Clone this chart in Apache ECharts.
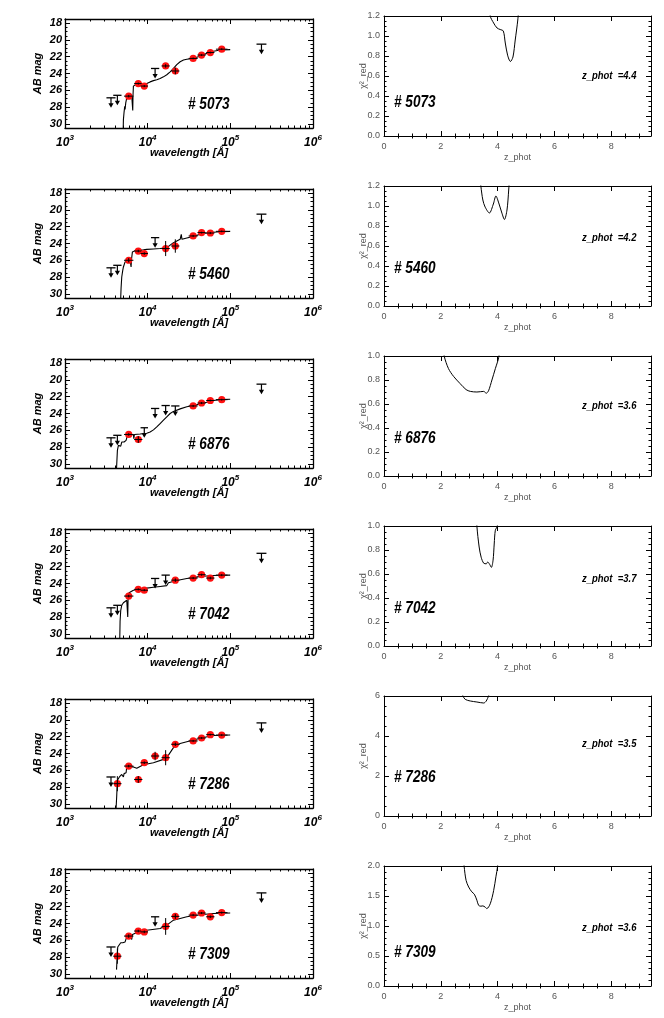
<!DOCTYPE html>
<html>
<head>
<meta charset="utf-8">
<script src="https://cdn.jsdelivr.net/npm/echarts@6/dist/echarts.min.js"></script>
<style>html,body{margin:0;padding:0;background:#fff}#main{width:664px;height:1018px}</style>
</head>
<body>
<div id="main"></div>
<script>
// photometric SED fits (left) and chi^2 vs redshift (right) for six objects
const objIds = ['5073', '5460', '6876', '7042', '7286', '7309'];
const zPhot = ['4.4', '4.2', '3.6', '3.7', '3.5', '3.6'];

// filters: U B V i z J H Ks 3.6 4.5 5.8 8.0 24um (Angstrom)
const filterWave = [3600, 4300, 5900, 7700, 9100, 12300, 16500, 21600, 35500, 44900, 57300, 78700, 238000];
const filterHalfDex = [0.055, 0.05, 0.057, 0.05, 0.045, 0.05, 0.05, 0.05, 0.055, 0.05, 0.05, 0.07, 0.06];

// AB magnitudes; err null = upper limit
const mag5073 = [26.9, 26.6, 26.7, 25.2, 25.5, 23.4, 23.1, 23.7, 22.2, 21.8, 21.5, 21.1, 20.5];
const err5073 = [null, null, 0.15, 0.12, 0.12, null, 0.2, 0.4, 0.1, 0.1, 0.1, 0.1, null];
const mag5460 = [26.9, 26.6, 26.0, 24.9, 25.2, 23.3, 24.6, 24.3, 23.1, 22.7, 22.75, 22.55, 20.5];
const err5460 = [null, null, 0.25, 0.15, 0.15, null, 0.9, 0.8, 0.12, 0.1, 0.12, 0.1, null];
const mag6876 = [26.9, 26.6, 26.5, 27.1, 25.7, 23.4, 23.05, 23.1, 23.1, 22.75, 22.45, 22.35, 20.5];
const err6876 = [null, null, 0.15, 0.4, null, null, null, null, 0.12, 0.12, 0.1, 0.1, null];
const mag7042 = [26.9, 26.6, 25.5, 24.7, 24.8, 23.4, 23.0, 23.6, 23.35, 22.95, 23.35, 23.0, 20.4];
const err7042 = [null, null, 0.15, 0.12, 0.12, null, null, 0.2, 0.12, 0.12, 0.15, 0.12, null];
const mag7286 = [26.8, 27.6, 25.5, 27.1, 25.1, 24.3, 24.5, 22.9, 22.5, 22.15, 21.75, 21.8, 20.35];
const err7286 = [null, 0.9, 0.15, 0.4, 0.15, 0.5, 0.9, 0.2, 0.12, 0.1, 0.1, 0.1, null];
const mag7309 = [26.8, 27.9, 25.5, 24.9, 25.0, 23.2, 24.35, 23.15, 23.0, 22.75, 23.2, 22.7, 20.35];
const err7309 = [null, 0.9, 0.2, 0.15, 0.15, null, 1.0, 0.3, 0.12, 0.12, 0.15, 0.12, null];

// best-fit template [wavelength, AB mag]
const sed5073 = [[5050, 31], [5088, 29.5], [5184, 28.6], [5281, 27.9], [5331, 28.3], [5431, 27.5], [5585, 26.9], [5689, 26.7], [5848, 26.66], [6417, 26.66], [6538, 26.6], [6599, 28.4], [6650, 26.6], [6723, 25.5], [6913, 25.3], [7379, 25.22], [8099, 25.25], [8886, 25.3], [9752, 25.2], [10703, 25.0], [11747, 24.85], [12892, 24.75], [14149, 24.6], [15527, 24.4], [17035, 24.15], [18700, 23.8], [20520, 23.4], [22510, 22.95], [24710, 22.6], [27120, 22.4], [29760, 22.3], [35840, 22.2], [43150, 21.9], [51980, 21.6], [62600, 21.35], [75420, 21.2], [99630, 21.15]];
const sed5460 = [[4700, 31], [4768, 29.3], [4858, 28.0], [4995, 27.2], [5088, 26.8], [5331, 26.2], [5585, 26.0], [6126, 25.95], [6241, 26.1], [6299, 26.8], [6360, 26.0], [6538, 25.0], [7044, 24.85], [7731, 24.8], [8886, 24.75], [9752, 24.7], [11747, 24.65], [14149, 24.6], [17035, 24.5], [18700, 24.2], [20520, 23.9], [22510, 23.7], [24710, 23.5], [25500, 22.9], [26000, 23.5], [29760, 23.35], [35840, 23.15], [43150, 22.9], [51980, 22.75], [62600, 22.65], [75420, 22.6], [99630, 22.55]];
const sed6876 = [[4147, 31], [4200, 30.6], [4304, 28.4], [4426, 27.8], [4550, 27.7], [4724, 27.9], [4858, 27.4], [5184, 27.4], [5482, 27.2], [5689, 26.6], [5848, 26.5], [6723, 26.5], [6800, 27.0], [6913, 26.5], [8099, 26.45], [9752, 26.35], [10703, 26.2], [11747, 25.95], [12892, 25.6], [14149, 25.2], [15527, 24.8], [17035, 24.4], [18700, 24.0], [20520, 23.75], [24710, 23.45], [29760, 23.2], [35840, 23.05], [43150, 22.85], [51980, 22.65], [62600, 22.45], [75420, 22.35], [99630, 22.3]];
const sed7042 = [[4508, 31], [4600, 30.5], [4637, 28.5], [4724, 27.2], [4858, 26.6], [5088, 26.3], [5331, 26.2], [5585, 26.0], [5689, 25.95], [5741, 28.0], [5800, 25.6], [5958, 25.1], [6723, 24.8], [7731, 24.72], [9752, 24.55], [11747, 24.45], [14149, 24.35], [17035, 24.25], [17847, 23.9], [18700, 23.8], [22510, 23.65], [29760, 23.4], [35840, 23.3], [43150, 23.15], [51980, 23.1], [62600, 23.05], [75420, 23.02], [99630, 23.0]];
const sed7286 = [[4147, 30.6], [4225, 29.0], [4304, 27.2], [4550, 26.8], [4858, 26.5], [4949, 26.6], [5088, 26.8], [5184, 26.4], [5481, 26.3], [5585, 25.6], [6723, 25.6], [7379, 25.75], [7731, 25.55], [8886, 25.35], [11747, 25.1], [15527, 24.7], [17847, 24.2], [20520, 23.3], [24710, 22.8], [29760, 22.6], [35840, 22.4], [47360, 22.1], [62600, 21.85], [99630, 21.8]];
const sed7309 = [[4200, 29.5], [4225, 29.0], [4345, 26.8], [4550, 26.6], [4724, 26.3], [4858, 26.5], [5000, 26.3], [5331, 26.2], [5585, 25.6], [5848, 25.4], [6126, 25.5], [6417, 25.9], [6550, 25.3], [6723, 25.2], [8099, 24.9], [9752, 24.8], [14149, 24.6], [17035, 24.2], [20520, 23.6], [24710, 23.4], [29760, 23.2], [43150, 22.95], [62600, 22.8], [99630, 22.75]];

// reduced chi^2 vs z_phot
const chi5073 = [[3.55, 1.6], [3.74, 1.2], [3.86, 1.13], [3.98, 1.08], [4.09, 1.065], [4.2, 1.05], [4.27, 0.93], [4.35, 0.81], [4.45, 0.745], [4.54, 0.79], [4.62, 0.96], [4.71, 1.16], [4.8, 1.45]];
const chi5460 = [[3.3, 1.5], [3.41, 1.2], [3.48, 1.06], [3.56, 0.99], [3.71, 0.93], [3.85, 1.02], [3.94, 1.1], [4.04, 1.03], [4.15, 0.93], [4.24, 0.865], [4.33, 0.96], [4.39, 1.16], [4.47, 1.5]];
const chi6876 = [[2.0, 1.2], [2.12, 1.0], [2.27, 0.895], [2.45, 0.83], [2.68, 0.77], [2.89, 0.72], [3.04, 0.705], [3.27, 0.7], [3.51, 0.705], [3.6, 0.69], [3.68, 0.71], [3.8, 0.8], [3.92, 0.895], [4.04, 0.99], [4.15, 1.2]];
const chi7042 = [[3.2, 1.3], [3.27, 1.0], [3.35, 0.825], [3.42, 0.74], [3.51, 0.69], [3.6, 0.685], [3.65, 0.7], [3.72, 0.68], [3.78, 0.655], [3.84, 0.715], [3.88, 0.85], [3.92, 0.965], [3.99, 1.0], [4.03, 1.3]];
const chi7286 = [[2.7, 6.3], [2.78, 6.0], [2.86, 5.83], [3.04, 5.75], [3.27, 5.7], [3.51, 5.65], [3.6, 5.75], [3.68, 6.0], [3.74, 6.3]];
const chi7309 = [[2.75, 2.4], [2.82, 2.0], [2.89, 1.76], [2.98, 1.65], [3.09, 1.57], [3.18, 1.53], [3.27, 1.43], [3.33, 1.345], [3.41, 1.33], [3.48, 1.335], [3.56, 1.315], [3.62, 1.29], [3.74, 1.37], [3.86, 1.59], [3.94, 1.82], [4.0, 2.0], [4.06, 2.4]];

const chiMax = [1.2, 1.2, 1.0, 1.0, 6, 2.0];
const chiStep = [0.2, 0.2, 0.2, 0.2, 2, 0.5];
const magTicks = [18, 20, 22, 24, 26, 28, 30];
const magMinor = [18, 18.5, 19, 19.5, 20, 20.5, 21, 21.5, 22, 22.5, 23, 23.5, 24, 24.5, 25, 25.5, 26, 26.5, 27, 27.5, 28, 28.5, 29, 29.5, 30];
const waveMinor = [2e3, 3e3, 4e3, 5e3, 6e3, 7e3, 8e3, 9e3, 2e4, 3e4, 4e4, 5e4, 6e4, 7e4, 8e4, 9e4, 2e5, 3e5, 4e5, 5e5, 6e5, 7e5, 8e5, 9e5];
const zMinor = [0.5, 1, 1.5, 2.5, 3, 3.5, 4.5, 5, 5.5, 6.5, 7, 7.5, 8.5, 9];

const mags = [mag5073, mag5460, mag6876, mag7042, mag7286, mag7309];
const errs = [err5073, err5460, err6876, err7042, err7286, err7309];
const seds = [sed5073, sed5460, sed6876, sed7042, sed7286, sed7309];
const chis = [chi5073, chi5460, chi6876, chi7042, chi7286, chi7309];

const SANS = 'Liberation Sans';
const GRAY = '#555';

function renderDet(params, api) {
  const x = api.value(0), y = api.value(1), e = api.value(2), dx = api.value(3);
  const c = api.coord([x, y]);
  const lo = api.coord([x / Math.pow(10, dx), y]);
  const hi = api.coord([x * Math.pow(10, dx), y]);
  const t = api.coord([x, y - e]);
  const b = api.coord([x, y + e]);
  return {
    type: 'group',
    children: [
      { type: 'circle', shape: { cx: c[0], cy: c[1], r: 3.6 }, style: { fill: '#ff1010' } },
      { type: 'line', shape: { x1: lo[0], y1: c[1], x2: hi[0], y2: c[1] }, style: { stroke: '#000', lineWidth: 1 } },
      { type: 'line', shape: { x1: c[0], y1: t[1], x2: c[0], y2: b[1] }, style: { stroke: '#000', lineWidth: 1 } }
    ]
  };
}

function renderLim(params, api) {
  const x = api.value(0), y = api.value(1), dx = api.value(2);
  const c = api.coord([x, y]);
  const lo = api.coord([x / Math.pow(10, dx), y]);
  const hi = api.coord([x * Math.pow(10, dx), y]);
  return {
    type: 'group',
    children: [
      { type: 'line', shape: { x1: lo[0], y1: c[1], x2: hi[0], y2: c[1] }, style: { stroke: '#000', lineWidth: 1.3 } },
      { type: 'line', shape: { x1: c[0], y1: c[1], x2: c[0], y2: c[1] + 7 }, style: { stroke: '#000', lineWidth: 1.2 } },
      { type: 'polygon', shape: { points: [[c[0] - 2.6, c[1] + 5.5], [c[0] + 2.6, c[1] + 5.5], [c[0], c[1] + 10]] }, style: { fill: '#000' } }
    ]
  };
}

const grid = [], xAxis = [], yAxis = [], series = [], graphic = [];
const lineBlack = { color: '#000', width: 1 };
const frameLeft = { color: '#000', width: 1.3 };
const leftLabel = { fontFamily: SANS, fontSize: 11, fontWeight: 'bold', fontStyle: 'italic', color: '#000' };
const grayLabel = { color: GRAY, fontFamily: SANS, fontSize: 9 };

// axis that only carries extra (minor) tick marks
function tickOnlyAxis(base, values) {
  return Object.assign({
    axisLine: { show: false },
    axisTick: { inside: true, length: 2.5, lineStyle: lineBlack, customValues: values },
    axisLabel: { show: false },
    splitLine: { show: false }
  }, base);
}

objIds.forEach(function (id, i) {
  const gl = grid.length;
  grid.push({ left: 65, top: 19 + 170 * i, width: 248, height: 109 });
  const gr = grid.length;
  grid.push({ left: 384, top: 16 + 170 * i, width: 267, height: 120 });

  // ---- left: SED ----
  const xb = xAxis.length;
  ['bottom', 'top'].forEach(function (pos) {
    xAxis.push({
      gridIndex: gl, type: 'log', logBase: 10, min: 1000, max: 1000000, position: pos,
      axisLine: { lineStyle: frameLeft, onZero: false },
      axisTick: { inside: true, length: 5, lineStyle: lineBlack },
      splitLine: { show: false },
      axisLabel: pos === 'bottom' ? {
        margin: 6,
        formatter: function (v) { return '{b|10}{e|' + Math.round(Math.log10(v)) + '}'; },
        rich: {
          b: Object.assign({}, leftLabel, { fontSize: 12 }),
          e: Object.assign({}, leftLabel, { fontSize: 8, padding: [0, 0, 10, 0] })
        }
      } : { show: false },
      name: pos === 'bottom' ? 'wavelength [Å]' : '',
      nameLocation: 'middle', nameGap: 19, nameMoveOverlap: false,
      nameTextStyle: leftLabel
    });
  });
  ['bottom', 'top'].forEach(function (pos) {
    xAxis.push(tickOnlyAxis({ gridIndex: gl, type: 'value', min: 3, max: 6, position: pos },
      waveMinor.map(function (w) { return Math.log10(w); })));
  });
  const yb = yAxis.length;
  ['left', 'right'].forEach(function (pos) {
    yAxis.push({
      gridIndex: gl, type: 'value', inverse: true, min: 17.5, max: 30.5, position: pos,
      axisLine: { lineStyle: frameLeft, onZero: false },
      axisTick: { inside: true, length: 5, lineStyle: lineBlack, customValues: magTicks },
      splitLine: { show: false },
      axisLabel: pos === 'left' ? Object.assign({ margin: 3, customValues: magTicks }, leftLabel) : { show: false },
      name: pos === 'left' ? 'AB mag' : '',
      nameLocation: 'middle', nameGap: 22, nameMoveOverlap: false,
      nameTextStyle: leftLabel
    });
    yAxis.push(tickOnlyAxis({ gridIndex: gl, type: 'value', inverse: true, min: 17.5, max: 30.5, position: pos }, magMinor));
  });

  const det = [], lim = [];
  filterWave.forEach(function (w, k) {
    if (errs[i][k] === null) lim.push([w, mags[i][k], filterHalfDex[k]]);
    else det.push([w, mags[i][k], errs[i][k], filterHalfDex[k]]);
  });
  series.push({
    type: 'line', xAxisIndex: xb, yAxisIndex: yb, data: seds[i], showSymbol: false,
    lineStyle: { color: '#000', width: 1.1 }, silent: true, clip: true, z: 2
  });
  series.push({
    type: 'custom', xAxisIndex: xb, yAxisIndex: yb, data: lim, renderItem: renderLim,
    encode: { x: 0, y: 1 }, silent: true, z: 3
  });
  series.push({
    type: 'custom', xAxisIndex: xb, yAxisIndex: yb, data: det, renderItem: renderDet,
    encode: { x: 0, y: 1 }, silent: true, z: 4
  });

  // ---- right: chi^2 ----
  const xr = xAxis.length;
  ['bottom', 'top'].forEach(function (pos) {
    xAxis.push({
      gridIndex: gr, type: 'value', min: 0, max: 9.4, interval: 2, position: pos,
      axisLine: { lineStyle: lineBlack, onZero: false },
      axisTick: { inside: true, length: 5, lineStyle: lineBlack },
      splitLine: { show: false },
      axisLabel: pos === 'bottom' ? Object.assign({ margin: 6, showMaxLabel: false }, grayLabel) : { show: false },
      name: pos === 'bottom' ? 'z_phot' : '',
      nameLocation: 'middle', nameGap: 17, nameMoveOverlap: false,
      nameTextStyle: grayLabel
    });
    xAxis.push(tickOnlyAxis({ gridIndex: gr, type: 'value', min: 0, max: 9.4, position: pos }, zMinor));
  });
  const yr = yAxis.length;
  ['left', 'right'].forEach(function (pos) {
    yAxis.push({
      gridIndex: gr, type: 'value', min: 0, max: chiMax[i], interval: chiStep[i], position: pos,
      axisLine: { lineStyle: lineBlack, onZero: false },
      axisTick: { inside: true, length: 5, lineStyle: lineBlack },
      minorTick: { show: true, splitNumber: chiStep[i] === 0.5 ? 5 : 4, length: 2.5, lineStyle: lineBlack },
      splitLine: { show: false },
      axisLabel: pos === 'left' ? Object.assign({
        margin: 4,
        formatter: function (v) { return chiStep[i] < 1 ? v.toFixed(1) : String(v); }
      }, grayLabel) : { show: false },
      name: pos === 'left' ? 'χ²_red' : '',
      nameLocation: 'middle', nameGap: 16, nameMoveOverlap: false,
      nameTextStyle: grayLabel
    });
  });
  series.push({
    type: 'line', xAxisIndex: xr, yAxisIndex: yr, data: chis[i], showSymbol: false, smooth: 0.3,
    lineStyle: { color: '#000', width: 1 }, silent: true, clip: true
  });

  // ---- annotations (condensed bold italic) ----
  const idFont = 'italic bold 16px ' + SANS;
  graphic.push({ type: 'text', x: 188, y: 105 + 170 * i, scaleX: 0.85, style: { text: '# ' + id, font: idFont, fill: '#000', verticalAlign: 'middle' } });
  graphic.push({ type: 'text', x: 394, y: [103, 99, 99, 99, 98, 103][i] + 170 * i, scaleX: 0.85, style: { text: '# ' + id, font: idFont, fill: '#000', verticalAlign: 'middle' } });
  graphic.push({ type: 'text', x: 582, y: [76, 68, 66, 69, 64, 78][i] + 170 * i, scaleX: 0.86, style: { text: 'z_phot  =' + zPhot[i], font: 'italic bold 11px ' + SANS, fill: '#000', verticalAlign: 'middle' } });
});

const chart = echarts.init(document.getElementById('main'), null, { renderer: 'canvas' });
chart.setOption({
  animation: false,
  backgroundColor: '#fff',
  grid: grid,
  xAxis: xAxis,
  yAxis: yAxis,
  series: series,
  graphic: graphic
});
</script>
</body>
</html>
